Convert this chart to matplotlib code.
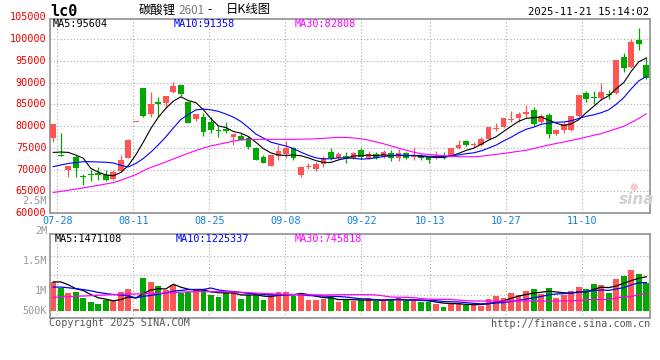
import matplotlib
matplotlib.use("Agg")
import matplotlib.pyplot as plt
import matplotlib.transforms as mtransforms
import numpy as np

# ---------------- data ----------------
tick_labels = ['07-28', '08-11', '08-25', '09-08', '09-22', '10-13', '10-27', '11-10']
tick_index = [1, 11, 21, 31, 41, 50, 60, 70]

opens = [77310, 73330, 69890, 72940, 68580, 69040, 69200, 68740, 67890, 69730,
         72710, 80900, 88810, 82760, 85520, 85360, 87890, 89430, 85590, 81680,
         82140, 80990, 79150, 79310, 77540, 77770, 77150, 75010, 72940, 70810,
         73170, 73500, 74880, 68740, 70690, 70120, 71270, 73960, 72710, 73100,
         72580, 74480, 72710, 73500, 72810, 73730, 72710, 73730, 72940, 73100,
         72940, 72580, 73170, 72940, 74880, 76550, 75570, 75630, 76940, 79390,
         79840, 81450, 81910, 82760, 83680, 80990, 82530, 78090, 79080, 79080,
         82370, 87660, 86740, 86370, 87290, 87520, 95930, 93640, 99770, 94030]
highs = [80460, 78460, 70880, 73330, 68970, 69890, 70510, 69890, 69890, 73330,
         77010, 80900, 88810, 87890, 86740, 86900, 90190, 89430, 85820, 82760,
         82920, 82140, 80070, 80850, 78160, 78320, 77770, 75240, 73330, 73330,
         75630, 76550, 75240, 70640, 71430, 71790, 73100, 75010, 74090, 73960,
         74090, 74880, 74250, 73960, 74480, 74480, 74710, 74090, 75240, 73500,
         73170, 74250, 73960, 75010, 76780, 76710, 76250, 77540, 79840, 80760,
         81770, 83450, 83290, 84830, 84440, 82690, 82920, 79310, 80990, 82370,
         87130, 88050, 88050, 89820, 88280, 95180, 96720, 100000, 102600, 95930]
lows = [76390, 72990, 68350, 68350, 66440, 67360, 67590, 67360, 67660, 69500,
        72580, 80900, 82140, 82140, 82140, 84070, 87660, 86970, 80760, 81220,
        77770, 78320, 77540, 78320, 75630, 76780, 74650, 72190, 71560, 70810,
        72190, 72580, 72190, 68350, 70120, 69660, 70640, 72190, 72420, 71430,
        72420, 72420, 72420, 72420, 72580, 72020, 71960, 72350, 72190, 72190,
        71560, 72350, 72350, 72940, 74650, 75470, 74880, 75470, 76940, 78850,
        79480, 80990, 80990, 81770, 80000, 80690, 77310, 77930, 78460, 78850,
        82140, 85590, 85060, 85980, 86210, 87360, 92490, 93410, 97470, 90810]
closes = [80460, 72990, 70880, 70410, 68280, 68740, 68670, 67660, 69430, 72120,
          76710, 80900, 82300, 85060, 85130, 86900, 89200, 87290, 80760, 82760,
          78690, 79080, 78780, 78920, 78160, 76780, 75240, 72190, 71560, 73330,
          74250, 74880, 72710, 70640, 70810, 71200, 72710, 72710, 73560, 72710,
          73860, 72940, 73560, 72710, 73960, 72710, 73730, 72580, 73330, 72580,
          72190, 73100, 72580, 75010, 75630, 75630, 75630, 77010, 79840, 79480,
          81770, 81540, 82760, 83150, 80460, 82370, 78160, 79080, 80460, 82370,
          87130, 86210, 86440, 87890, 87130, 95180, 93270, 99380, 98780, 90970]

ma5 = [73930, 74020, 73930, 73330, 72600, 70260, 69390, 68750, 68550, 69320,
       70920, 73360, 76290, 79420, 82020, 84060, 85720, 86710, 85850, 85380,
       83740, 81720, 80020, 79650, 78730, 78350, 77580, 76260, 74790, 73820,
       73320, 73240, 73350, 73160, 72660, 72050, 71620, 71620, 72200, 72580,
       73110, 73160, 73330, 73160, 73410, 73180, 73330, 73140, 73260, 72990,
       72880, 72760, 72760, 73090, 73700, 74390, 74900, 75790, 76750, 77520,
       78750, 79930, 81080, 81740, 81940, 82060, 81380, 80650, 80110, 80490,
       81440, 83050, 84520, 86010, 86960, 88570, 89980, 92570, 94750, 95600]
ma10 = [70640, 71040, 71380, 71610, 71790, 71790, 71730, 71660, 71500, 70960,
        70590, 71380, 72520, 73990, 75670, 77490, 79540, 81500, 82640, 83700,
        83900, 83720, 83370, 82750, 82050, 81040, 79650, 78140, 77220, 76280,
        75830, 75410, 74800, 73980, 73240, 72680, 72430, 72480, 72680, 72620,
        72580, 72390, 72470, 72680, 72990, 73150, 73250, 73230, 73210, 73200,
        73030, 73050, 72950, 73180, 73340, 73640, 73830, 74270, 74920, 75610,
        76570, 77410, 78430, 79250, 79730, 80400, 80660, 80860, 80920, 81210,
        81750, 82220, 82580, 83060, 83720, 85000, 86510, 88540, 90380, 91360]
ma30 = [64710, 64970, 65240, 65500, 65770, 66070, 66370, 66670, 66990, 67540,
        68160, 68830, 69700, 70480, 71100, 71730, 72420, 73080, 73750, 74350,
        74920, 75430, 75790, 76140, 76530, 76810, 76850, 76900, 76940, 76940,
        76940, 76940, 76940, 76970, 76990, 77060, 77170, 77270, 77380, 77380,
        77240, 77080, 76760, 76350, 75910, 75430, 74920, 74440, 74000, 73610,
        73470, 73310, 73170, 73040, 72940, 72940, 72940, 73040, 73270, 73470,
        73700, 73930, 74190, 74420, 74810, 75240, 75630, 75980, 76320, 76690,
        77040, 77450, 77860, 78250, 78810, 79360, 79910, 80810, 81730, 82810]

# volumes in thousands
volume_k = [1247, 1003, 774, 817, 559, 387, 301, 487, 459, 817,
            946, 86, 1419, 1247, 1075, 917, 1104, 774, 817, 889,
            932, 702, 602, 774, 860, 516, 674, 674, 487, 731,
            817, 817, 645, 774, 473, 473, 516, 588, 401, 502,
            416, 459, 559, 430, 430, 530, 559, 416, 430, 387,
            387, 315, 172, 344, 344, 244, 244, 215, 530, 645,
            559, 774, 702, 860, 946, 745, 989, 559, 674, 860,
            1032, 946, 1161, 1118, 774, 1376, 1519, 1763, 1591, 1190]
vol_ma5_k = [1250, 1250, 1130, 960, 880, 708, 568, 510, 439, 490,
             602, 559, 745, 903, 955, 949, 1152, 1023, 937, 900,
             903, 823, 788, 780, 774, 691, 685, 700, 642, 616,
             677, 705, 699, 757, 705, 636, 576, 565, 490, 496,
             485, 473, 467, 473, 459, 482, 502, 473, 473, 464,
             436, 387, 338, 321, 312, 284, 270, 278, 315, 376,
             439, 545, 642, 708, 768, 805, 848, 820, 783, 765,
             823, 814, 935, 1023, 1006, 1075, 1190, 1310, 1405, 1471]
vol_ma10_k = [1030, 1030, 1000, 960, 920, 870, 800, 750, 710, 685,
              655, 563, 628, 671, 722, 775, 856, 884, 920, 927,
              926, 988, 906, 859, 837, 797, 754, 744, 711, 695,
              684, 695, 700, 700, 661, 657, 641, 632, 624, 601,
              561, 525, 516, 482, 477, 483, 487, 470, 473, 462,
              459, 444, 406, 397, 388, 360, 328, 308, 318, 344,
              361, 407, 460, 512, 572, 622, 697, 731, 745, 767,
              814, 831, 877, 903, 886, 949, 1002, 1122, 1214, 1225]
vol_ma30_k = [588, 600, 615, 630, 645, 660, 675, 690, 705, 720,
              731, 731, 740, 748, 760, 775, 790, 810, 825, 830,
              831, 831, 831, 831, 820, 805, 788, 770, 750, 740,
              730, 720, 710, 700, 695, 692, 690, 692, 700, 702,
              702, 702, 700, 690, 650, 600, 590, 588, 570, 540,
              510, 502, 500, 495, 470, 445, 432, 430, 430, 430,
              430, 430, 430, 430, 430, 430, 430, 432, 435, 440,
              450, 487, 487, 490, 495, 560, 602, 620, 700, 746]

price_labels = [105000, 100000, 95000, 90000, 85000, 80000, 75000, 70000, 65000, 60000]
ma_texts = ['MA5:95604', 'MA10:91358', 'MA30:82808']
vol_ma_texts = ['MA5:1471108', 'MA10:1225337', 'MA30:745818']
vol_labels = ['2M', '1.5M', '1M', '500K']

# ---------------- styling ----------------
W, H = 660, 360
RED = '#ff5555'
GREEN = '#00a800'
GRID = '#aaaaaa'
BORDER = '#999999'
MONO = 'DejaVu Sans Mono'
CJK = ['Noto Sans CJK SC', 'DejaVu Sans']
MA_COLORS = ['black', '#0000ff', '#ff00ff']

plt.rcParams['font.family'] = MONO


def px(x, y):
    """pixel position -> figure fraction"""
    return x / W, 1 - y / H


fig = plt.figure(figsize=(W / 100, H / 100), dpi=100)
ax = fig.add_axes([50 / W, 1 - 213 / H, 600 / W, 194 / H])
axv = fig.add_axes([50 / W, 1 - 318 / H, 600 / W, 83.7 / H])

n = len(closes)
x = np.arange(n)
o = np.array(opens)
c = np.array(closes)
up = c >= o
colors = np.where(up, RED, GREEN)

# sina's date grid runs on a slightly wider step than the candles
grid_pos = [(57.3 + (i - 1) * 7.6 - 53.2) / 7.506 for i in tick_index]

for a in (ax, axv):
    a.set_xlim(-0.43, 79.5)
    a.set_xticks([])
    a.set_yticks([])
    for s in a.spines.values():
        s.set_color(BORDER)
        s.set_linewidth(1.3)
    for g in grid_pos:
        a.axvline(g, color=GRID, lw=0.8, ls=(0, (1, 2)), zorder=0)

# ---------------- price panel ----------------
ax.set_ylim(60000, 104600)
for v in price_labels[1:-1]:
    ax.axhline(v, color=GRID, lw=0.8, ls=(0, (1, 2)), zorder=0)

body_lo = np.minimum(o, c)
body_h = np.maximum(np.abs(c - o), 230)
ax.vlines(x, lows, highs, colors=colors, lw=0.9, zorder=2)
ax.bar(x, body_h, bottom=body_lo, width=0.76, color=colors, linewidth=0, zorder=3)

for vals, col in zip([ma5, ma10, ma30], MA_COLORS):
    ax.plot(x, vals, color=col, lw=0.8, zorder=4)

ytrans = mtransforms.blended_transform_factory(ax.transAxes, ax.transData)
for v in price_labels:
    ax.text(-0.006, v, str(v), transform=ytrans, ha='right', va='center',
            color='#ee0000', fontsize=7.3, clip_on=False)

xtrans = mtransforms.blended_transform_factory(ax.transData, ax.transAxes)
for g, lab in zip(grid_pos, tick_labels):
    ax.text(g, -0.042, lab, transform=xtrans, ha='center', va='center',
            color='#1080e0', fontsize=7.3, clip_on=False)

for t, col, xp in zip(ma_texts, MA_COLORS, [53, 174, 295]):
    fig.text(*px(xp, 24), t, color=col, fontsize=7.3, va='center')

# ---------------- volume panel ----------------
scale = 43000
axv.set_ylim(-7 * scale, 76.7 * scale)
for f in [0.741, 0.510, 0.271]:
    axv.axhline(axv.get_ylim()[0] + f * (axv.get_ylim()[1] - axv.get_ylim()[0]),
                color=GRID, lw=0.8, ls=(0, (1, 2)), zorder=0)

vol = np.array(volume_k) * 1000
axv.bar(x, vol, width=0.76, color=colors, linewidth=0, zorder=2)
for vals, col in zip([vol_ma5_k, vol_ma10_k, vol_ma30_k], MA_COLORS):
    axv.plot(x, np.array(vals) * 1000, color=col, lw=0.9, zorder=3)

for t, col, xp in zip(vol_ma_texts, MA_COLORS, [55, 176, 295]):
    fig.text(*px(xp, 238.5), t, color=col, fontsize=7.3, va='center')

for lab, yp in zip(vol_labels, [230.7, 260.7, 290.7, 310.7]):
    fig.text(*px(47, yp), lab, color='#999999', fontsize=7.3, ha='right', va='center')
fig.text(*px(47, 201), '2.5M', color='#999999', fontsize=7.3, ha='right', va='center')

# ---------------- header / footer ----------------
fig.text(*px(50, 11), 'lc0', fontsize=11, fontweight='bold', va='center', color='black')
fig.text(*px(139, 10), '碳酸锂', family=CJK, fontsize=8.9, va='center', color='black')
fig.text(*px(178, 10.5), '2601', family=CJK, fontsize=8.4, va='center', color='#777777')
fig.text(*px(207, 10), '-', family=CJK, fontsize=8.9, va='center', color='black')
fig.text(*px(226, 10), '日K线图', family=CJK, fontsize=8.9, va='center', color='black')
fig.text(*px(649, 12), '2025-11-21 15:14:02', fontsize=7.6, ha='right', va='center', color='black')

fig.text(*px(49, 323), 'Copyright 2025 SINA.COM', fontsize=7.3, va='center', color='#555555')
fig.text(*px(650, 324), 'http://finance.sina.com.cn', fontsize=7.3, ha='right', va='center',
         color='#555555')

fig.text(*px(637, 199), 'sina', fontsize=11, fontstyle='italic', fontweight='bold',
         family='DejaVu Sans', ha='center', va='center', color='#d0d0d0')
fig.text(*px(634, 187), '●', fontsize=7, family='DejaVu Sans', ha='center', va='center',
         color='#f2d0d0')

fig.savefig('out.png', dpi=100)
